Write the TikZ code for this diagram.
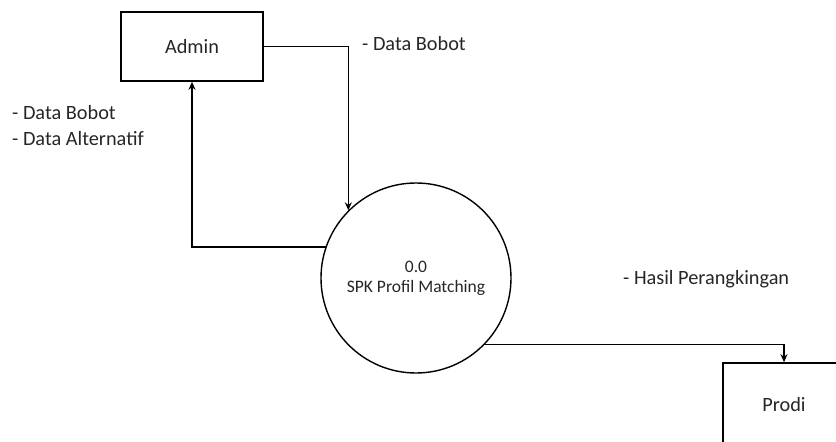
\documentclass[tikz,border=0pt]{standalone}
\usepackage{fontspec}
\setmainfont{Carlito}
\usetikzlibrary{arrows.meta}
\begin{document}
\begin{tikzpicture}[x=1pt,y=-1pt,
  every node/.style={font=\fontsize{20.3}{26}\selectfont, text=black!85},
  entity/.style={draw, line width=1.6pt, rectangle, inner sep=0pt},
  process/.style={draw, line width=1.4pt, circle, inner sep=0pt, minimum size=190pt, align=center,
     font=\fontsize{17.5}{20}\selectfont},
  flow/.style={line width=1.6pt, -{Stealth[length=8pt,width=7pt]}},
  lbl/.style={anchor=west, align=left, inner sep=0pt}]
\useasboundingbox (0,0) rectangle (836,442);
\clip (0,0) rectangle (836,442);
\node[entity, minimum width=142pt, minimum height=69pt] (admin) at (192,46.5) {Admin};
\node[process] (proc) at (416,278) {0.0\\SPK Profil Matching};
\node[entity, minimum width=122pt, minimum height=84pt] (prodi) at (784,405) {Prodi};
\draw[flow] (admin.east) -| (proc.135);
\draw[flow] (proc.161.6) -| (admin.south);
\draw[flow] (proc.-44) -| (prodi.north);
\node[lbl] (l1) at (362,44) {- Data Bobot};
\node[lbl] (l2) at (12,126) {- Data Bobot\\- Data Alternatif};
\node[lbl] (l3) at (623,279) {- Hasil Perangkingan};
\end{tikzpicture}
\end{document}
